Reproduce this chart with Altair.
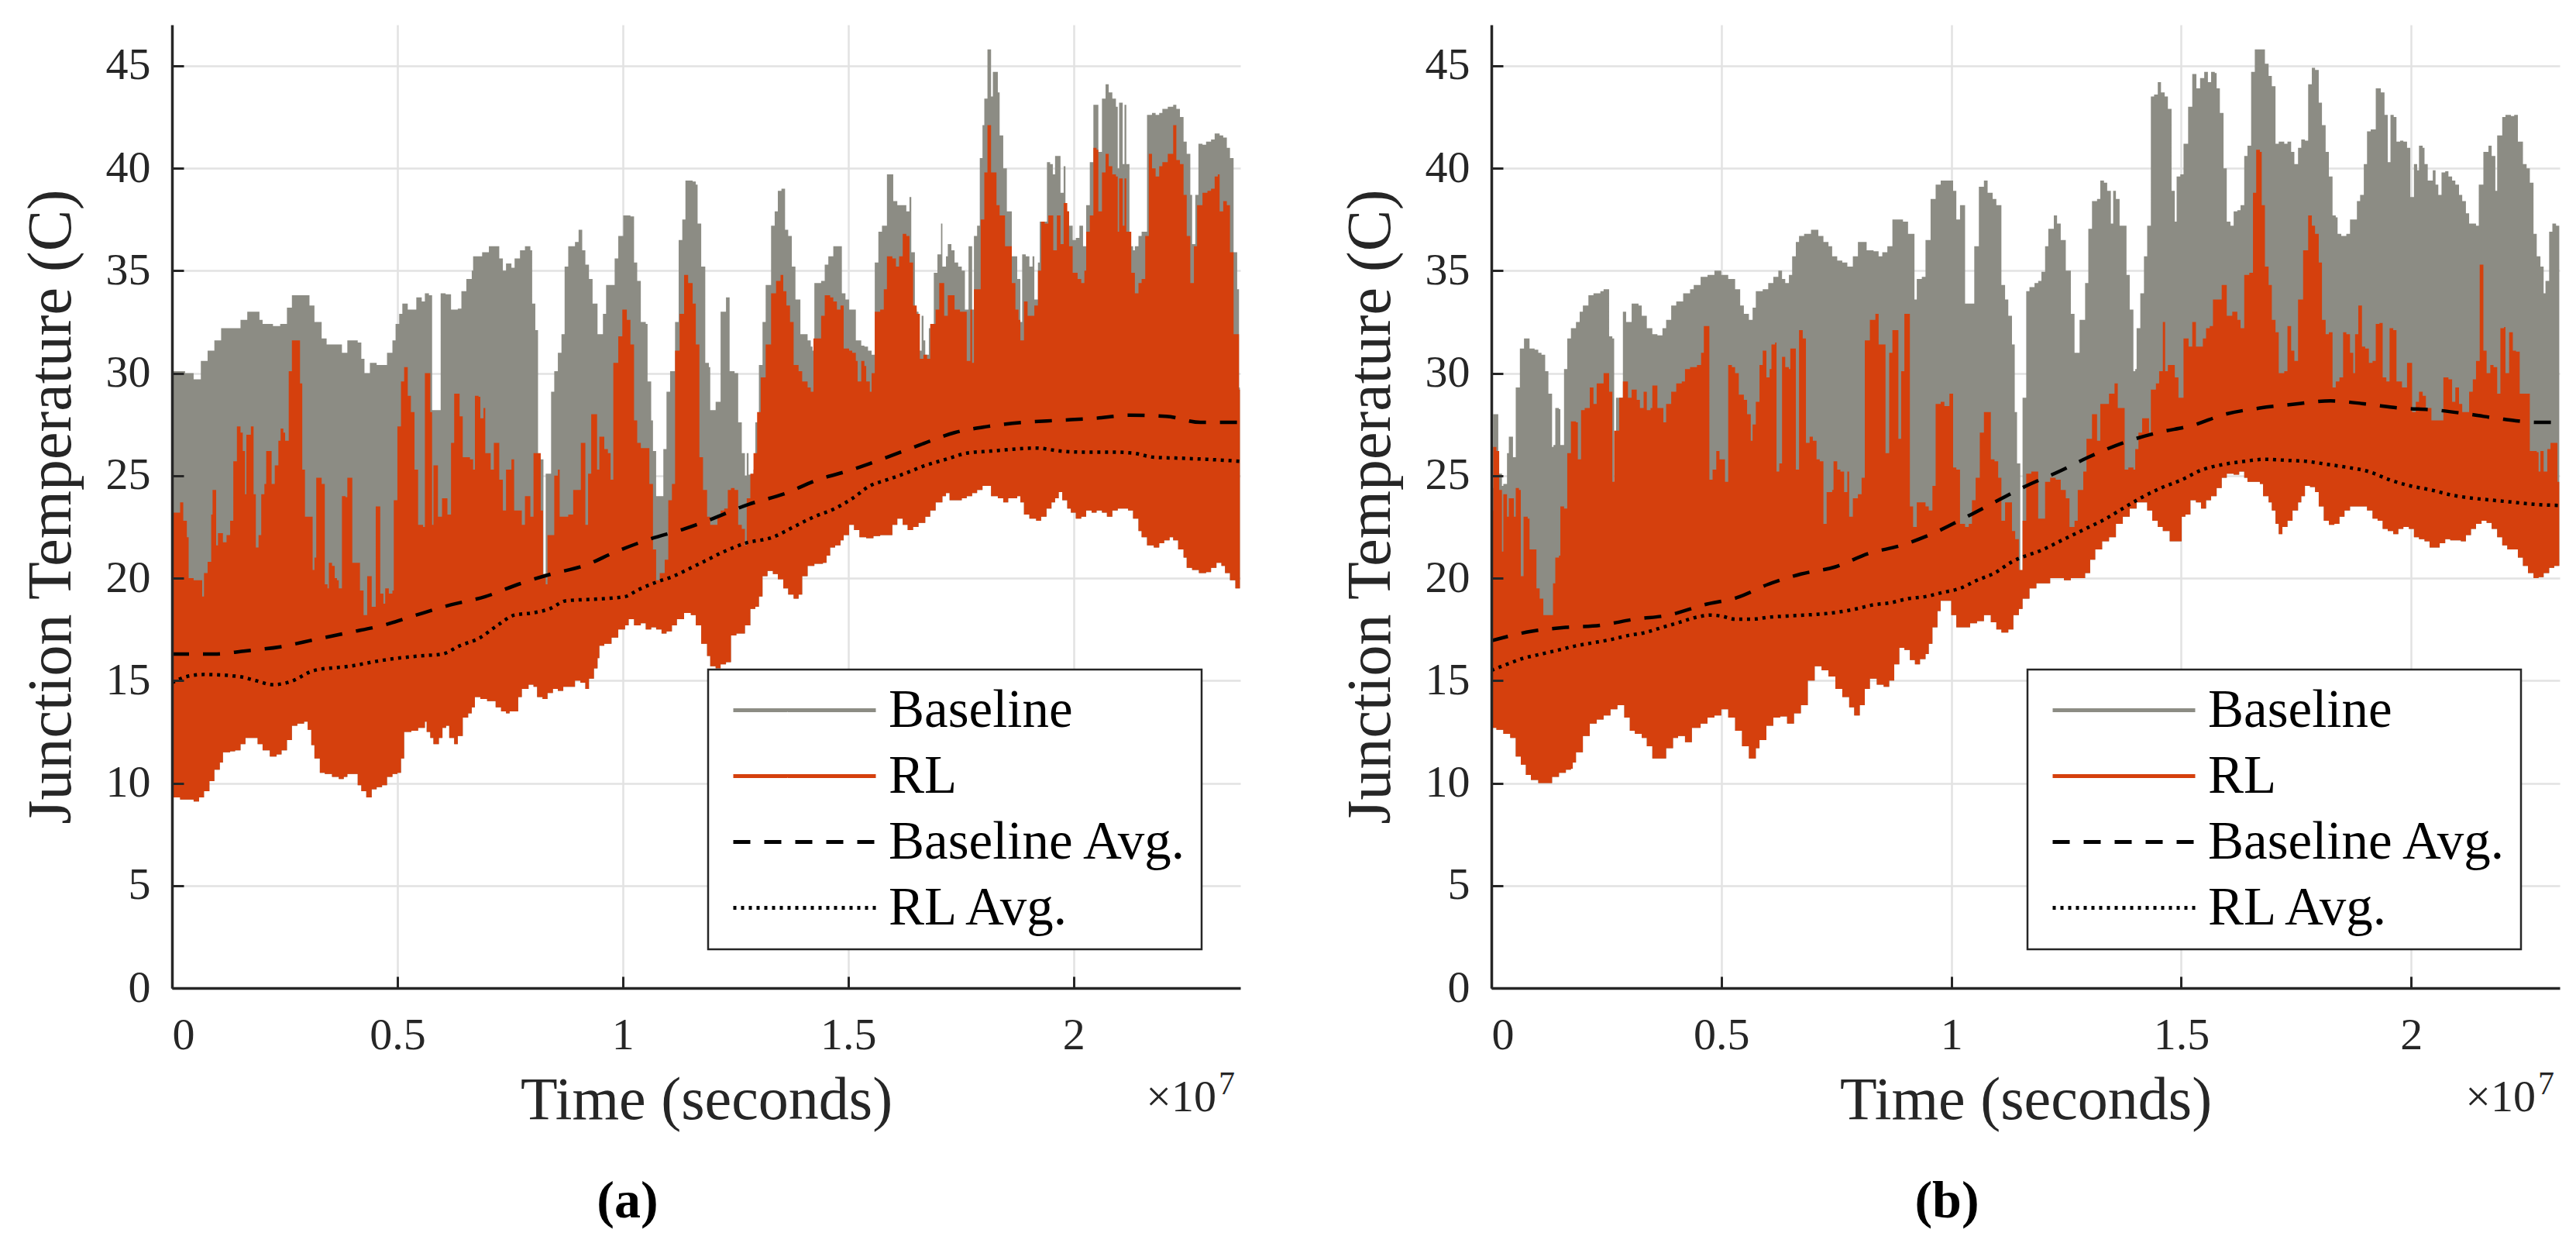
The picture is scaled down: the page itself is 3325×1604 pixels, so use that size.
import altair as alt
import pandas as pd

GREY = "#8c8c84"
RED = "#d5400d"
INK = "#262626"
FONT = "Liberation Serif"

SERIES = ["Baseline", "RL", "Baseline Avg.", "RL Avg."]
X_TICKS = [0, 0.5, 1, 1.5, 2]
Y_TICKS = [0, 5, 10, 15, 20, 25, 30, 35, 40, 45]
X_TITLE = "Time (seconds)"
Y_TITLE = "Junction Temperature (C)"
CAPTIONS = ["(a)", "(b)"]
X_MAX = [2.37, 2.323]

# ---------------- panel (a) : time in units of 1e7 s, temperature in C ----------------
A_BASE_HI = [(0.000,30.1),(0.029,30.0),(0.048,29.7),(0.064,30.6),(0.079,31.1),(0.094,31.6),(0.109,32.2),(0.136,32.2),(0.152,32.6),(0.167,33.0),(0.186,33.0),(0.194,32.6),(0.201,32.4),(0.224,32.3),(0.240,32.4),(0.255,33.2),(0.266,33.8),(0.293,33.8),(0.305,33.3),(0.316,32.5),(0.332,31.7),(0.343,31.4),(0.362,31.4),(0.377,31.0),(0.389,31.6),(0.412,31.5),(0.420,30.7),(0.427,30.0),(0.439,30.5),(0.454,30.4),(0.477,31.0),(0.489,31.6),(0.496,32.4),(0.504,32.9),(0.511,33.4),(0.523,33.1),(0.542,33.7),(0.554,33.5),(0.561,33.9),(0.570,33.8),(0.577,28.2),(0.596,33.9),(0.607,33.85),(0.619,33.1),(0.634,33.15),(0.642,34.0),(0.653,34.6),(0.665,35.0),(0.668,35.7),(0.688,35.9),(0.703,36.2),(0.718,36.2),(0.726,35.6),(0.734,35.0),(0.741,35.35),(0.753,35.15),(0.760,35.6),(0.772,36.0),(0.783,36.2),(0.795,36.0),(0.799,33.4),(0.806,32.1),(0.812,25.8),(0.820,25.8),(0.824,20.2),(0.829,25.1),(0.841,29.1),(0.848,30.1),(0.856,31.0),(0.864,31.9),(0.871,35.2),(0.879,36.2),(0.894,36.4),(0.902,37.0),(0.910,36.0),(0.917,35.3),(0.925,34.6),(0.933,33.4),(0.944,31.9),(0.952,31.9),(0.956,32.9),(0.963,34.3),(0.975,34.3),(0.982,35.6),(0.990,36.7),(1.001,37.7),(1.017,37.65),(1.025,35.4),(1.032,34.5),(1.040,32.5),(1.051,32.4),(1.055,29.6),(1.063,27.7),(1.067,26.2),(1.074,24.0),(1.082,24.0),(1.090,26.3),(1.097,29.1),(1.105,30.1),(1.116,32.5),(1.124,36.5),(1.132,37.5),(1.139,39.4),(1.155,39.35),(1.162,39.2),(1.166,37.3),(1.174,35.2),
    (1.183,30.5),(1.191,30.3),(1.194,28.2),(1.202,28.2),(1.206,28.6),(1.214,28.6),(1.217,33.0),(1.225,33.0),(1.229,33.7),(1.234,33.7),(1.237,30.1),(1.248,30.0),(1.256,27.6),(1.264,26.1),(1.267,26.1),(1.271,25.0),(1.275,26.1),(1.279,25.05),(1.287,25.0),(1.290,25.3),(1.294,27.6),(1.302,30.4),(1.310,32.5),(1.317,34.3),(1.329,37.2),(1.337,37.9),(1.344,38.9),(1.352,39.0),(1.360,37.0),(1.367,36.7),(1.375,35.2),(1.383,33.6),(1.394,31.9),(1.410,31.6),(1.417,31.3),(1.421,31.1),(1.425,34.4),(1.433,34.4),(1.440,34.5),(1.448,35.3),(1.456,35.7),(1.467,36.2),(1.483,36.2),(1.486,33.9),(1.494,33.6),(1.502,33.1),(1.513,33.1),(1.517,31.6),(1.525,31.6),(1.529,31.35),(1.536,31.3),(1.544,31.1),(1.552,30.9),(1.559,35.4),(1.567,36.9),(1.575,37.2),(1.586,39.7),(1.598,39.7),(1.600,38.4),(1.609,38.2),(1.621,38.2),(1.629,37.9),(1.636,38.6),(1.640,35.9),(1.648,33.1),(1.652,33.0),(1.656,31.1),(1.663,32.8),(1.667,31.6),(1.671,30.9),(1.679,32.2),(1.690,34.9),(1.698,35.8),(1.706,37.3),(1.709,35.2),(1.717,35.7),(1.721,36.3),(1.729,36.0),(1.736,35.4),(1.744,35.2),(1.752,35.0),(1.759,33.1),(1.767,36.2),(1.772,36.2),(1.775,33.1),(1.779,36.7),(1.786,37.2),(1.792,40.5),(1.798,42.1),(1.802,43.4),(1.809,45.8),(1.815,45.8),(1.817,43.5),(1.821,44.7),(1.829,44.7),(1.832,43.7),(1.836,41.6),(1.844,40.0),(1.852,37.9),(1.855,37.9),(1.863,35.7),(1.875,34.6),(1.882,32.5),(1.886,35.8),(1.894,35.7),(1.902,35.2),(1.909,35.7),(1.913,33.6),(1.921,35.4),(1.925,37.4),(1.936,37.4),(1.941,40.3),(1.948,40.2),(1.954,39.7),(1.959,40.6),(1.967,40.6),(1.971,38.8),(1.978,40.1),(1.982,37.9),(1.990,37.2),(1.998,36.5),(2.005,36.6),(2.013,37.2),(2.021,36.2),(2.028,38.2),(2.036,40.3),(2.044,43.1),(2.051,43.1),(2.055,40.8),(2.063,43.4),(2.071,44.1),(2.078,43.7),(2.086,43.4),(2.094,43.0),(2.098,40.0),(2.101,43.2),(2.109,40.2),(2.113,43.1),(2.117,40.2),(2.124,36.2),(2.132,36.0),(2.136,36.2),(2.144,36.7),(2.151,36.9),(2.159,36.9),(2.163,42.6),(2.174,42.7),(2.182,42.6),(2.190,42.7),(2.197,42.9),(2.209,43.0),(2.221,43.1),(2.228,42.9),(2.236,42.5),(2.244,41.3),(2.251,40.7),(2.259,38.7),(2.263,36.3),(2.270,38.7),(2.277,41.2),(2.286,41.15),(2.294,41.3),(2.305,41.4),(2.313,41.7),(2.324,41.6),(2.332,41.5),(2.340,41.0),(2.347,40.5),(2.355,35.9),(2.363,34.1),(2.367,29.3),(2.369,34.1)]

A_RL_HI = [(0.000,23.2),(0.014,23.2),(0.018,23.7),(0.025,22.8),(0.033,22.0),(0.037,20.0),(0.048,19.9),(0.064,19.9),(0.067,19.1),(0.071,20.25),(0.079,20.8),(0.087,23.1),(0.090,24.3),(0.096,24.3),(0.098,21.6),(0.102,22.2),(0.113,21.75),(0.121,22.1),(0.129,22.8),(0.136,25.7),(0.144,27.4),(0.152,27.1),(0.157,26.2),(0.162,24.1),(0.165,27.0),(0.175,27.4),(0.181,24.1),(0.186,21.5),(0.192,22.1),(0.198,24.1),(0.205,24.6),(0.209,26.2),(0.217,26.2),(0.221,24.6),(0.228,25.5),(0.236,26.7),(0.241,27.3),(0.247,27.1),(0.251,26.7),(0.259,30.1),(0.266,31.6),(0.278,31.6),(0.284,29.5),(0.289,25.3),(0.295,23.0),(0.309,23.0),(0.312,20.4),(0.316,21.0),(0.320,24.9),(0.332,24.6),(0.339,19.7),(0.345,19.5),(0.348,20.75),(0.355,20.6),(0.361,20.0),(0.366,19.9),(0.370,19.5),(0.377,24.0),(0.385,23.95),(0.389,24.9),(0.395,24.9),(0.400,20.75),(0.412,20.75),(0.417,19.4),(0.425,18.2),(0.433,20.1),(0.439,20.1),(0.443,18.6),(0.449,18.6),(0.452,23.5),(0.458,23.5),(0.462,19.25),(0.469,18.75),(0.473,19.5),(0.481,19.25),(0.489,19.4),(0.492,23.8),(0.500,27.4),(0.508,29.6),(0.515,30.3),(0.523,28.9),(0.530,28.1),(0.538,25.3),(0.546,22.6),(0.557,22.5),(0.561,30.0),(0.569,30.0),(0.573,28.1),(0.577,22.6),(0.580,25.5),(0.584,25.5),(0.590,23.0),(0.599,23.9),(0.608,23.9),(0.611,23.1),(0.619,26.6),(0.626,29.0),(0.634,29.0),(0.638,27.9),(0.645,25.9),(0.661,25.8),(0.668,25.3),(0.672,28.9),(0.680,28.85),(0.684,27.8),(0.691,28.3),(0.695,26.1),(0.707,25.3),(0.714,26.6),(0.722,26.6),(0.726,24.8),(0.734,23.3),(0.741,25.3),(0.753,25.8),(0.759,23.3),(0.768,23.3),(0.776,22.6),(0.783,24.0),(0.791,24.0),(0.795,23.0),(0.802,26.1),(0.810,26.1),(0.818,23.3),(0.823,20.2),(0.829,19.7),(0.833,22.1),(0.841,22.1),(0.848,25.0),(0.856,25.3),(0.860,23.0),(0.871,23.0),(0.879,23.1),(0.890,24.3),(0.902,24.3),(0.907,26.6),(0.913,26.6),(0.917,22.6),(0.923,25.1),(0.930,28.0),(0.938,28.0),(0.943,25.3),(0.948,26.9),(0.956,26.9),(0.959,26.3),(0.967,26.1),(0.973,24.8),(0.979,30.5),(0.990,31.8),(0.999,33.1),(1.009,32.6),(1.017,31.4),(1.025,27.7),(1.032,26.6),(1.040,26.35),(1.051,26.35),(1.059,24.6),(1.067,21.4),(1.074,19.9),(1.082,20.25),(1.093,20.9),(1.101,23.8),(1.109,24.6),(1.116,31.1),(1.126,32.9),(1.136,34.8),(1.145,34.4),(1.155,33.4),(1.162,31.4),(1.170,25.9),(1.178,24.3),
    (1.187,23.0),(1.194,22.6),(1.210,23.1),(1.217,23.3),(1.225,23.4),(1.233,24.3),(1.240,24.4),(1.248,24.3),(1.256,22.6),(1.264,22.4),(1.271,21.6),(1.275,23.9),(1.283,25.1),(1.290,26.1),(1.298,28.1),(1.306,29.8),(1.317,31.4),(1.329,33.9),(1.340,34.5),(1.350,34.8),(1.356,34.0),(1.363,33.3),(1.371,32.5),(1.379,30.4),(1.390,30.1),(1.398,29.6),(1.410,29.3),(1.417,29.1),(1.423,31.7),(1.433,31.7),(1.440,32.8),(1.448,33.8),(1.460,33.7),(1.467,33.5),(1.475,33.1),(1.483,33.3),(1.490,31.2),(1.502,31.1),(1.509,31.0),(1.517,30.6),(1.521,29.6),(1.529,30.6),(1.536,30.35),(1.540,29.6),(1.548,29.1),(1.552,30.0),(1.559,33.0),(1.571,33.1),(1.579,34.1),(1.586,35.7),(1.598,35.6),(1.606,35.2),(1.613,35.7),(1.621,36.8),(1.629,36.7),(1.636,35.4),(1.644,33.3),(1.652,32.9),(1.659,30.7),(1.667,30.9),(1.675,30.7),(1.682,32.4),(1.694,33.1),(1.702,34.4),(1.709,34.4),(1.713,32.8),(1.721,33.8),(1.729,33.8),(1.736,33.1),(1.748,33.0),(1.759,33.0),(1.763,30.6),(1.771,33.1),(1.775,30.5),(1.779,34.1),(1.790,34.1),(1.794,37.5),(1.802,39.8),(1.809,42.1),(1.815,42.1),(1.817,39.8),(1.829,38.2),(1.836,37.7),(1.848,36.2),(1.859,36.2),(1.863,34.4),(1.871,33.1),(1.878,32.6),(1.882,31.6),(1.890,33.5),(1.898,32.8),(1.905,32.8),(1.913,33.3),(1.921,35.0),(1.928,37.4),(1.936,37.3),(1.944,37.7),(1.955,36.0),(1.963,37.7),(1.971,36.3),(1.978,38.3),(1.986,37.9),(1.990,36.2),(1.998,34.9),(2.009,34.6),(2.017,34.4),(2.024,35.0),(2.028,36.9),(2.036,37.7),(2.044,41.0),(2.051,40.9),(2.055,37.9),(2.063,39.8),(2.071,40.7),(2.078,40.1),(2.086,39.7),(2.094,39.6),(2.098,36.9),(2.101,39.5),(2.109,37.2),(2.113,39.5),(2.117,36.9),(2.128,34.9),(2.136,33.9),(2.144,34.4),(2.151,34.6),(2.159,36.7),(2.167,40.7),(2.174,40.0),(2.182,39.6),(2.190,40.1),(2.197,40.3),(2.209,40.7),(2.221,42.1),(2.226,42.1),(2.228,40.4),(2.236,40.2),(2.244,38.7),(2.251,36.7),(2.259,34.4),(2.267,36.2),(2.274,38.2),(2.286,38.8),(2.297,38.9),(2.305,39.0),(2.313,39.6),(2.320,39.7),(2.324,37.9),(2.332,38.4),(2.340,38.2),(2.347,35.9),(2.355,31.9),(2.363,31.9),(2.367,29.2),(2.369,29.2)]

A_RL_LO = [(0.000,13.0),(0.002,9.3),(0.018,9.2),(0.033,9.2),(0.048,9.1),(0.060,9.3),(0.071,9.6),(0.083,10.1),(0.094,10.65),(0.106,11.0),(0.113,11.5),(0.129,11.55),(0.140,11.6),(0.152,11.9),(0.163,12.2),(0.178,12.2),(0.190,11.9),(0.201,11.6),(0.217,11.3),(0.232,11.4),(0.243,11.6),(0.255,12.1),(0.266,12.8),(0.278,12.9),(0.293,13.0),(0.301,12.6),(0.309,11.85),(0.316,11.2),(0.328,10.5),(0.339,10.45),(0.355,10.3),(0.370,10.2),(0.381,10.3),(0.389,10.45),(0.400,10.45),(0.412,9.9),(0.420,9.6),(0.431,9.3),(0.443,9.7),(0.454,9.8),(0.466,9.9),(0.477,10.3),(0.489,10.45),(0.500,10.5),(0.508,11.2),(0.515,12.5),(0.531,12.55),(0.546,12.7),(0.561,13.0),(0.565,12.5),(0.573,12.2),(0.580,11.9),(0.592,12.2),(0.600,12.7),(0.608,12.8),(0.615,12.2),(0.626,11.9),(0.634,12.3),(0.645,13.2),(0.657,13.4),(0.665,13.7),(0.672,14.2),(0.684,14.1),(0.699,14.0),(0.711,14.0),(0.718,13.7),(0.730,13.5),(0.741,13.4),(0.749,13.5),(0.760,13.5),(0.768,14.2),(0.776,14.6),(0.791,14.8),(0.802,14.7),(0.810,14.2),(0.822,14.1),(0.833,14.4),(0.845,14.6),(0.856,14.5),(0.868,14.7),(0.883,14.7),(0.894,15.0),(0.906,14.9),(0.917,14.6),(0.925,15.1),(0.936,15.6),(0.944,16.1),(0.948,16.7),(0.959,16.8),(0.975,17.1),(0.990,17.5),(1.005,17.7),(1.013,18.0),(1.025,17.7),(1.040,17.8),(1.051,17.5),(1.063,17.6),(1.074,17.5),(1.086,17.3),(1.097,17.4),(1.109,17.7),(1.120,18.0),(1.136,18.3),(1.151,18.2),(1.162,17.7),(1.174,16.8),
    (1.187,16.2),(1.194,15.7),(1.206,15.6),(1.217,15.8),(1.229,15.9),(1.240,17.2),(1.252,17.3),(1.264,17.3),(1.271,17.7),(1.283,18.5),(1.294,18.6),(1.302,19.1),(1.310,20.1),(1.321,20.35),(1.333,20.2),(1.344,19.95),(1.356,19.5),(1.367,19.2),(1.379,19.0),(1.390,19.2),(1.398,20.1),(1.410,20.6),(1.425,20.7),(1.444,20.75),(1.452,21.1),(1.460,21.5),(1.471,21.6),(1.483,21.85),(1.490,22.1),(1.502,22.6),(1.513,22.35),(1.525,22.0),(1.540,21.95),(1.556,22.05),(1.571,22.1),(1.586,22.1),(1.598,22.6),(1.609,22.9),(1.621,22.6),(1.632,22.35),(1.644,22.5),(1.656,22.7),(1.671,23.0),(1.682,23.3),(1.694,23.7),(1.709,24.0),(1.717,24.15),(1.725,23.8),(1.740,23.8),(1.752,23.9),(1.763,24.0),(1.775,24.15),(1.786,24.3),(1.798,24.5),(1.809,24.5),(1.817,24.0),(1.832,23.9),(1.844,23.7),(1.855,23.9),(1.867,23.9),(1.875,24.0),(1.882,23.7),(1.890,23.1),(1.902,22.9),(1.917,22.8),(1.928,23.0),(1.940,23.4),(1.951,23.7),(1.959,23.9),(1.967,24.2),(1.975,23.8),(1.986,23.4),(1.994,23.2),(2.005,22.9),(2.017,23.0),(2.028,23.3),(2.040,23.2),(2.051,23.3),(2.063,23.2),(2.074,23.0),(2.086,23.3),(2.098,23.4),(2.109,23.4),(2.121,23.3),(2.132,22.9),(2.144,22.3),(2.151,22.0),(2.163,21.6),(2.178,21.5),(2.190,21.7),(2.201,21.85),(2.213,22.0),(2.221,21.85),(2.232,21.4),(2.244,21.0),(2.251,20.5),(2.263,20.4),(2.278,20.25),(2.294,20.3),(2.305,20.5),(2.317,20.75),(2.328,20.6),(2.336,20.25),(2.347,19.9),(2.359,19.5),(2.369,19.1)]

A_BASE_AVG = [(0.000,16.3),(0.094,16.3),(0.163,16.45),(0.240,16.65),(0.316,17.0),(0.393,17.35),(0.469,17.7),(0.542,18.2),(0.619,18.7),(0.695,19.1),(0.768,19.7),(0.841,20.2),(0.913,20.6),(0.986,21.3),(1.059,21.9),(1.136,22.4),(1.193,22.85),(1.279,23.6),(1.356,24.1),(1.433,24.8),(1.510,25.3),(1.586,25.9),(1.659,26.5),(1.736,27.1),(1.809,27.4),(1.886,27.6),(1.967,27.7),(2.048,27.8),(2.124,27.95),(2.205,27.9),(2.282,27.6),(2.370,27.6)]

A_RL_AVG = [(0.000,14.9),(0.033,15.2),(0.071,15.3),(0.148,15.2),(0.186,15.0),(0.224,14.8),(0.263,14.95),(0.316,15.5),(0.393,15.7),(0.469,16.0),(0.546,16.2),(0.600,16.3),(0.638,16.7),(0.684,17.1),(0.722,17.7),(0.760,18.2),(0.799,18.3),(0.837,18.5),(0.875,18.9),(0.913,18.95),(0.959,19.0),(1.005,19.1),(1.036,19.45),(1.074,19.8),(1.113,20.1),(1.151,20.5),(1.179,20.8),(1.225,21.3),(1.271,21.7),(1.333,22.0),(1.379,22.5),(1.425,23.0),(1.471,23.4),(1.510,23.9),(1.548,24.5),(1.586,24.8),(1.625,25.1),(1.671,25.5),(1.717,25.8),(1.763,26.1),(1.817,26.2),(1.871,26.3),(1.917,26.35),(1.971,26.2),(2.024,26.15),(2.086,26.15),(2.132,26.1),(2.178,25.9),(2.240,25.85),(2.294,25.8),(2.370,25.7)]

# ---------------- panel (b) ----------------
B_BASE_HI = [(0.000,24.4),(0.004,28.0),(0.011,28.0),(0.015,25.1),(0.023,24.5),(0.026,24.6),(0.034,26.1),(0.038,26.9),(0.045,26.9),(0.047,25.9),(0.053,29.3),(0.060,29.3),(0.062,31.2),(0.071,31.7),(0.079,31.7),(0.083,31.2),(0.094,31.15),(0.102,31.0),(0.109,30.9),(0.117,30.1),(0.124,29.0),(0.132,26.4),(0.135,26.5),(0.139,28.3),(0.147,28.25),(0.150,26.5),(0.158,30.2),(0.165,31.7),(0.173,32.2),(0.184,32.5),(0.192,33.0),(0.199,33.3),(0.211,33.8),(0.222,33.9),(0.237,34.0),(0.244,34.1),(0.252,34.1),(0.256,31.8),(0.263,31.7),(0.267,24.7),(0.271,28.8),(0.278,28.8),(0.286,33.0),(0.293,32.5),(0.305,33.4),(0.320,33.3),(0.327,32.8),(0.338,32.2),(0.350,31.9),(0.361,31.85),(0.372,32.2),(0.380,32.6),(0.391,33.3),(0.402,33.5),(0.417,33.9),(0.432,34.1),(0.440,34.3),(0.455,34.7),(0.470,34.8),(0.485,35.0),(0.500,34.8),(0.515,34.6),(0.530,34.1),(0.541,33.3),(0.549,32.9),(0.560,32.6),(0.568,33.2),(0.575,34.0),(0.590,34.1),(0.602,34.4),(0.613,34.7),(0.624,35.0),(0.632,34.6),(0.639,34.4),(0.647,34.8),(0.654,35.7),(0.662,36.4),(0.669,36.7),(0.680,36.8),(0.695,37.0),(0.711,36.7),(0.722,36.4),(0.733,36.2),(0.741,35.7),(0.752,35.5),(0.763,35.4),(0.774,35.2),(0.786,35.7),(0.797,36.4),(0.808,36.4),(0.816,36.0),(0.831,35.95),(0.842,35.7),(0.850,35.9),(0.861,36.2),(0.872,37.5),(0.883,37.5),(0.895,37.4),(0.906,36.8),(0.914,36.8),(0.920,33.6),(0.925,34.6),(0.936,34.7),(0.944,36.5),(0.951,36.5),(0.955,38.5),(0.966,39.2),(0.977,39.4),(0.996,39.4),(1.004,38.9),(1.011,37.5),(1.019,38.2),(1.026,38.2),(1.030,33.4),(1.045,33.4),(1.050,36.2),(1.060,39.1),(1.071,39.4),(1.079,38.8),(1.090,38.5),(1.098,38.2),(1.105,38.2),(1.109,34.3),(1.117,33.6),(1.124,32.8),(1.132,31.4),(1.138,28.1),(1.143,25.6),(1.150,20.25),
    (1.155,28.8),(1.163,34.0),(1.170,34.2),(1.181,34.4),(1.189,34.5),(1.196,34.95),(1.204,36.2),(1.211,37.05),(1.223,37.7),(1.230,37.3),(1.238,36.5),(1.249,35.0),(1.257,35.0),(1.260,32.9),(1.268,31.0),(1.275,31.0),(1.279,32.6),(1.291,34.4),(1.298,37.05),(1.306,38.4),(1.317,38.5),(1.324,39.4),(1.332,39.3),(1.339,38.9),(1.347,37.3),(1.352,38.9),(1.358,38.5),(1.366,37.2),(1.373,37.2),(1.381,34.8),(1.388,33.1),(1.396,30.1),(1.400,30.2),(1.403,32.2),(1.411,33.9),(1.419,35.7),(1.426,37.2),(1.434,43.5),(1.441,43.6),(1.449,44.2),(1.456,43.7),(1.464,43.5),(1.471,42.9),(1.479,38.9),(1.486,37.4),(1.490,39.6),(1.498,39.7),(1.505,41.2),(1.515,43.0),(1.524,44.6),(1.533,43.9),(1.541,44.4),(1.550,44.7),(1.558,44.2),(1.565,44.7),(1.573,44.65),(1.577,43.9),(1.584,42.7),(1.592,40.0),(1.599,37.4),(1.607,37.2),(1.614,37.9),(1.622,37.95),(1.629,38.2),(1.637,40.6),(1.644,41.1),(1.652,44.7),(1.660,45.8),(1.675,45.8),(1.682,45.1),(1.690,44.5),(1.697,44.0),(1.705,41.2),(1.712,41.3),(1.724,41.2),(1.731,41.3),(1.739,40.8),(1.746,40.2),(1.754,41.0),(1.761,41.4),(1.769,41.35),(1.776,44.1),(1.784,44.9),(1.791,44.8),(1.799,43.2),(1.806,42.1),(1.814,40.8),(1.821,39.6),(1.829,37.7),(1.836,37.6),(1.840,36.8),(1.848,36.7),(1.859,36.8),(1.867,37.5),(1.874,37.5),(1.882,38.4),(1.889,38.7),(1.897,40.2),(1.904,41.8),(1.912,41.9),(1.923,43.9),(1.934,43.7),(1.942,42.6),(1.949,40.3),(1.955,42.6),(1.962,42.5),(1.968,41.3),(1.976,41.35),(1.983,41.3),(1.991,41.0),(1.998,38.6),(2.006,40.2),(2.013,39.9),(2.017,41.1),(2.025,41.0),(2.029,40.2),(2.036,39.4),(2.047,39.9),(2.053,39.2),(2.059,38.7),(2.066,39.8),(2.074,39.85),(2.081,39.6),(2.089,39.4),(2.096,39.2),(2.104,38.7),(2.111,38.4),(2.119,37.8),(2.126,37.3),(2.134,37.3),(2.141,37.2),(2.147,39.2),(2.157,40.8),(2.168,41.1),(2.175,40.6),(2.183,38.9),(2.187,41.6),(2.198,42.5),(2.205,42.6),(2.217,42.55),(2.224,42.6),(2.232,41.3),(2.243,40.2),(2.251,40.0),(2.258,39.3),(2.266,36.8),(2.273,35.7),(2.281,35.2),(2.288,33.9),(2.292,34.5),(2.300,36.9),(2.307,37.3),(2.315,37.2),(2.322,37.1)]

B_RL_HI = [(0.000,23.3),(0.004,26.4),(0.011,26.2),(0.017,24.3),(0.023,21.3),(0.026,24.1),(0.034,23.0),(0.038,23.9),(0.045,23.9),(0.049,23.0),(0.053,24.4),(0.060,24.3),(0.064,20.1),(0.070,23.0),(0.079,22.9),(0.083,21.4),(0.090,21.4),(0.098,19.5),(0.105,19.0),(0.113,18.2),(0.128,18.2),(0.134,19.75),(0.139,21.0),(0.147,21.1),(0.150,23.5),(0.158,23.4),(0.165,26.1),(0.173,27.65),(0.184,27.6),(0.188,25.8),(0.195,28.2),(0.203,28.3),(0.211,28.3),(0.214,29.3),(0.222,28.5),(0.229,29.5),(0.237,29.5),(0.244,30.0),(0.256,29.1),(0.263,24.7),(0.267,27.2),(0.278,28.8),(0.286,29.6),(0.293,29.6),(0.297,28.8),(0.305,29.2),(0.312,29.2),(0.316,28.7),(0.323,28.3),(0.331,29.1),(0.338,28.2),(0.346,28.3),(0.350,29.4),(0.357,29.4),(0.361,28.3),(0.368,28.3),(0.374,27.6),(0.380,28.5),(0.391,29.1),(0.402,29.5),(0.414,29.6),(0.421,30.2),(0.432,30.3),(0.447,30.4),(0.456,31.0),(0.462,32.3),(0.470,32.3),(0.474,24.8),(0.481,25.3),(0.489,26.2),(0.496,25.8),(0.508,24.7),(0.515,30.4),(0.523,30.3),(0.530,30.0),(0.538,28.95),(0.549,28.7),(0.556,28.0),(0.564,26.7),(0.568,27.5),(0.575,28.6),(0.583,30.4),(0.590,31.1),(0.598,29.8),(0.605,30.2),(0.609,31.4),(0.617,31.5),(0.620,25.2),(0.626,25.6),(0.632,30.8),(0.639,30.3),(0.647,30.2),(0.650,31.2),(0.658,31.2),(0.662,25.3),(0.669,32.1),(0.677,31.7),(0.684,26.6),(0.692,26.9),(0.699,26.7),(0.707,25.8),(0.714,25.7),(0.722,22.65),(0.729,24.2),(0.741,24.3),(0.744,25.7),(0.752,25.3),(0.759,25.2),(0.767,24.2),(0.774,25.2),(0.778,23.0),(0.786,23.9),(0.797,24.1),(0.805,24.9),(0.812,31.6),(0.823,32.6),(0.835,32.9),(0.842,31.4),(0.850,31.4),(0.857,26.1),(0.865,31.0),(0.872,32.1),(0.880,32.1),(0.885,26.8),(0.891,30.1),(0.898,32.9),(0.906,32.9),(0.910,23.5),(0.917,22.5),(0.925,23.7),(0.932,23.7),(0.944,23.5),(0.951,23.3),(0.959,24.5),(0.966,28.5),(0.977,28.6),(0.985,28.4),(0.996,29.0),(1.004,25.4),(1.011,25.3),(1.019,22.65),(1.030,22.5),(1.038,22.65),(1.045,23.8),(1.053,24.9),(1.062,27.1),(1.071,28.1),(1.079,28.1),(1.086,25.8),(1.094,25.7),(1.102,24.9),(1.109,22.8),(1.117,23.7),(1.124,23.7),(1.132,22.3),(1.139,21.9),(1.147,20.4),
    (1.155,22.8),(1.163,25.1),(1.174,25.2),(1.185,25.2),(1.189,22.9),(1.196,22.9),(1.204,24.7),(1.215,24.9),(1.227,24.8),(1.238,24.3),(1.249,23.9),(1.257,22.5),(1.264,22.5),(1.268,22.8),(1.275,24.3),(1.287,25.2),(1.294,26.8),(1.306,28.0),(1.313,28.0),(1.317,26.7),(1.324,28.5),(1.336,28.5),(1.343,29.0),(1.355,29.5),(1.362,28.3),(1.370,28.3),(1.377,25.3),(1.385,25.4),(1.396,25.3),(1.400,26.3),(1.407,27.1),(1.415,27.8),(1.422,27.8),(1.430,27.1),(1.434,29.2),(1.445,29.5),(1.452,30.1),(1.460,32.5),(1.465,30.1),(1.471,30.4),(1.486,29.8),(1.494,28.8),(1.501,28.8),(1.505,31.7),(1.516,31.3),(1.524,32.5),(1.532,31.3),(1.539,31.3),(1.547,31.7),(1.554,32.2),(1.562,32.3),(1.569,33.6),(1.580,33.6),(1.588,34.3),(1.596,34.3),(1.599,32.8),(1.611,33.0),(1.622,32.6),(1.629,32.2),(1.637,34.8),(1.648,34.9),(1.656,38.8),(1.663,40.9),(1.671,40.8),(1.675,38.2),(1.682,35.2),(1.690,34.3),(1.697,32.6),(1.705,32.0),(1.712,30.0),(1.724,30.1),(1.731,32.3),(1.739,31.1),(1.746,30.6),(1.754,33.6),(1.765,36.0),(1.776,37.7),(1.784,37.2),(1.791,36.8),(1.799,35.4),(1.806,32.6),(1.814,31.9),(1.821,32.0),(1.829,29.3),(1.836,29.6),(1.844,29.8),(1.852,32.0),(1.859,31.9),(1.867,31.0),(1.874,30.0),(1.878,31.9),(1.885,33.3),(1.893,31.3),(1.900,31.2),(1.908,30.5),(1.916,30.6),(1.923,32.4),(1.931,32.45),(1.938,29.8),(1.946,29.6),(1.953,32.2),(1.961,32.1),(1.968,29.6),(1.980,29.3),(1.987,29.3),(1.991,30.5),(1.998,30.5),(2.002,28.1),(2.010,28.6),(2.017,29.1),(2.025,28.9),(2.032,28.3),(2.044,27.7),(2.062,27.7),(2.070,29.8),(2.081,29.7),(2.089,28.6),(2.096,29.3),(2.104,28.5),(2.111,28.1),(2.119,28.1),(2.126,29.1),(2.134,29.7),(2.141,30.6),(2.149,35.3),(2.157,31.1),(2.164,30.0),(2.172,30.4),(2.179,30.3),(2.187,29.0),(2.194,32.2),(2.202,32.25),(2.205,30.0),(2.213,32.0),(2.221,31.1),(2.228,31.05),(2.236,29.0),(2.251,29.0),(2.258,26.2),(2.273,26.15),(2.277,25.2),(2.281,26.2),(2.288,25.2),(2.296,26.3),(2.303,26.6),(2.311,26.6),(2.318,24.7),(2.322,24.7)]

B_RL_LO = [(0.000,12.7),(0.011,12.6),(0.026,12.4),(0.041,12.2),(0.053,11.3),(0.064,10.9),(0.075,10.4),(0.086,10.15),(0.102,10.0),(0.117,10.0),(0.132,10.3),(0.147,10.5),(0.162,10.65),(0.173,10.7),(0.177,11.0),(0.184,11.5),(0.199,12.3),(0.214,12.9),(0.229,13.1),(0.244,13.3),(0.259,13.6),(0.274,13.8),(0.289,13.2),(0.301,12.55),(0.312,12.4),(0.327,12.2),(0.338,11.8),(0.350,11.2),(0.365,11.2),(0.380,11.7),(0.395,12.2),(0.406,12.3),(0.421,12.0),(0.436,12.7),(0.455,12.9),(0.470,13.2),(0.485,13.3),(0.500,13.6),(0.515,13.2),(0.530,12.55),(0.545,11.8),(0.560,11.2),(0.568,11.2),(0.575,11.7),(0.583,12.1),(0.598,12.8),(0.613,13.2),(0.628,13.25),(0.643,12.9),(0.658,13.4),(0.673,13.8),(0.688,15.0),(0.703,15.7),(0.718,15.5),(0.733,15.2),(0.748,14.6),(0.763,14.2),(0.778,13.7),(0.789,13.3),(0.801,13.8),(0.812,14.6),(0.823,15.1),(0.838,14.8),(0.853,14.7),(0.865,15.0),(0.876,15.8),(0.887,16.6),(0.898,16.5),(0.910,16.0),(0.921,15.8),(0.932,16.05),(0.944,16.3),(0.951,16.8),(0.959,17.6),(0.970,18.4),(0.977,18.9),(0.989,18.9),(1.000,18.2),(1.011,17.6),(1.026,17.6),(1.041,17.8),(1.056,17.9),(1.071,18.2),(1.086,17.85),(1.098,17.5),(1.109,17.35),(1.124,17.5),(1.135,18.2),(1.147,18.5),
    (1.155,19.0),(1.170,19.5),(1.185,19.75),(1.200,19.75),(1.215,20.0),(1.230,20.0),(1.245,19.9),(1.260,20.0),(1.275,20.0),(1.291,20.25),(1.302,20.9),(1.313,21.4),(1.328,21.8),(1.343,22.0),(1.358,22.65),(1.373,23.0),(1.388,23.4),(1.403,23.7),(1.415,23.7),(1.426,23.3),(1.437,22.8),(1.449,22.5),(1.460,22.3),(1.475,21.8),(1.490,21.8),(1.501,23.0),(1.509,23.1),(1.520,23.8),(1.532,23.7),(1.543,23.4),(1.554,23.8),(1.565,24.0),(1.577,24.4),(1.588,24.9),(1.599,25.1),(1.614,25.05),(1.626,25.2),(1.637,24.9),(1.644,24.7),(1.660,24.7),(1.671,24.6),(1.678,24.0),(1.690,23.7),(1.697,23.3),(1.705,22.65),(1.712,22.15),(1.720,22.5),(1.731,22.8),(1.742,23.3),(1.754,23.7),(1.761,24.0),(1.769,24.5),(1.780,24.45),(1.791,24.2),(1.799,23.5),(1.810,22.8),(1.821,22.6),(1.833,22.65),(1.844,23.0),(1.855,23.3),(1.867,23.5),(1.878,23.5),(1.893,23.5),(1.904,23.3),(1.916,22.9),(1.927,22.8),(1.938,22.4),(1.949,22.3),(1.961,22.15),(1.972,22.4),(1.983,22.5),(1.995,22.4),(2.006,22.0),(2.017,21.9),(2.029,21.8),(2.040,21.5),(2.051,21.5),(2.062,21.7),(2.074,21.9),(2.085,21.85),(2.096,21.85),(2.108,21.8),(2.119,22.1),(2.130,22.4),(2.141,22.65),(2.153,22.8),(2.164,22.7),(2.175,22.4),(2.187,22.0),(2.198,21.6),(2.209,21.4),(2.221,21.4),(2.232,21.0),(2.243,20.6),(2.254,20.25),(2.266,20.0),(2.277,20.05),(2.288,20.25),(2.300,20.5),(2.311,20.6),(2.322,20.8)]

B_BASE_AVG = [(0.000,16.95),(0.086,17.4),(0.162,17.6),(0.237,17.7),(0.312,18.0),(0.387,18.2),(0.462,18.7),(0.534,19.05),(0.602,19.7),(0.673,20.2),(0.748,20.55),(0.820,21.2),(0.891,21.6),(0.962,22.2),(1.034,23.0),(1.102,23.8),(1.163,24.5),(1.234,25.2),(1.298,25.9),(1.373,26.6),(1.449,27.1),(1.524,27.45),(1.596,28.0),(1.671,28.3),(1.750,28.5),(1.825,28.65),(1.900,28.5),(1.976,28.3),(2.055,28.2),(2.126,28.0),(2.202,27.75),(2.277,27.6),(2.322,27.6)]

B_RL_AVG = [(0.000,15.5),(0.034,15.8),(0.071,16.1),(0.109,16.3),(0.147,16.5),(0.184,16.7),(0.222,16.85),(0.259,17.0),(0.297,17.2),(0.335,17.35),(0.372,17.6),(0.410,17.85),(0.447,18.1),(0.477,18.2),(0.500,18.15),(0.530,18.0),(0.568,18.0),(0.605,18.1),(0.643,18.15),(0.680,18.2),(0.718,18.25),(0.756,18.35),(0.793,18.5),(0.831,18.7),(0.868,18.8),(0.906,19.0),(0.944,19.1),(0.981,19.3),(1.019,19.5),(1.056,19.9),(1.094,20.25),(1.132,20.8),(1.200,21.4),(1.245,21.9),(1.291,22.4),(1.336,22.9),(1.373,23.4),(1.411,23.9),(1.456,24.4),(1.501,24.8),(1.547,25.3),(1.592,25.55),(1.637,25.7),(1.682,25.8),(1.727,25.75),(1.772,25.7),(1.818,25.55),(1.863,25.4),(1.908,25.2),(1.953,24.8),(1.998,24.5),(2.044,24.3),(2.089,24.05),(2.134,23.9),(2.179,23.8),(2.224,23.7),(2.269,23.6),(2.322,23.55)]

W, H = 1379, 1243


def series_of(pairs):
    s = pd.Series([v for _, v in pairs], index=[t for t, _ in pairs])
    s = s[~s.index.duplicated(keep="last")].sort_index()
    return s


def band(hi_pairs, lo_pairs):
    hi, lo = series_of(hi_pairs), series_of(lo_pairs)
    idx = sorted(set(hi.index) | set(lo.index))
    return pd.DataFrame({
        "t": idx,
        "hi": hi.reindex(idx).ffill().bfill().values,
        "lo": lo.reindex(idx).ffill().bfill().values,
    })


def lines(base_avg, rl_avg):
    a = pd.DataFrame(base_avg, columns=["t", "v"]).assign(series="Baseline Avg.")
    b = pd.DataFrame(rl_avg, columns=["t", "v"]).assign(series="RL Avg.")
    return pd.concat([a, b], ignore_index=True)


def panel(base_hi, rl_hi, rl_lo, base_avg, rl_avg, xmax, caption):
    xs = alt.Scale(domain=[0, xmax], nice=False, zero=False)
    ys = alt.Scale(domain=[0, 47], nice=False, zero=False)

    ax_x_main = alt.Axis(orient="bottom", values=X_TICKS, format="~g", grid=True,
                         gridColor="#e2e2e2", gridWidth=2.5, domain=False, ticks=False,
                         tickSize=0, labelPadding=78, labelBaseline="alphabetic",
                         labelFontSize=58, labelFont=FONT, labelColor=INK,
                         title=X_TITLE, titleFontSize=78, titleFont=FONT, titleColor=INK,
                         titleFontWeight="normal", titleY=168, titleBaseline="alphabetic",
                         zindex=0)
    ax_y_main = alt.Axis(orient="left", values=Y_TICKS, grid=True, gridColor="#e2e2e2",
                         gridWidth=2.5, domain=False, ticks=False, tickSize=0,
                         labelPadding=28, labelFontSize=58, labelFont=FONT, labelColor=INK,
                         title=Y_TITLE, titleFontSize=80, titleFont=FONT, titleColor=INK,
                         titleFontWeight="normal", titleX=-132, titleY=H / 2,
                         titleAngle=270, titleAlign="center", titleBaseline="alphabetic",
                         zindex=0)
    ax_x_tick = alt.Axis(orient="bottom", values=X_TICKS, grid=False, domain=False,
                         ticks=True, tickSize=15, tickWidth=3, tickColor=INK, offset=-15,
                         labels=False, title=None, zindex=1)
    ax_y_tick = alt.Axis(orient="left", values=Y_TICKS, grid=False, domain=False,
                         ticks=True, tickSize=15, tickWidth=3, tickColor=INK, offset=-15,
                         labels=False, title=None, zindex=1)
    ax_x_dom = alt.Axis(orient="bottom", grid=False, domain=True, domainColor=INK,
                        domainWidth=3.5, ticks=False, labels=False, title=None, zindex=1)
    ax_y_dom = alt.Axis(orient="left", grid=False, domain=True, domainColor=INK,
                        domainWidth=3.5, ticks=False, labels=False, title=None, zindex=1)

    grey = alt.Chart(band(base_hi, rl_lo)).mark_area(
        color=GREY, interpolate="step-after", clip=True).encode(
        x=alt.X("t:Q", scale=xs, axis=ax_x_main),
        y=alt.Y("hi:Q", scale=ys, axis=ax_y_main),
        y2="lo:Q")
    red = alt.Chart(band(rl_hi, rl_lo)).mark_area(
        color=RED, interpolate="step-after", clip=True).encode(
        x=alt.X("t:Q", scale=xs, axis=ax_x_tick),
        y=alt.Y("hi:Q", scale=ys, axis=ax_y_tick),
        y2="lo:Q")

    leg = alt.Legend(title=None, orient="bottom-right", offset=50, padding=18,
                     fillColor="white", strokeColor=INK, labelFont=FONT,
                     labelFontSize=69, labelColor="black", labelLimit=1000,
                     symbolType="M-1,0H8.2",
                     symbolSize=1600, symbolStrokeWidth=5, labelOffset=146,
                     rowPadding=15, symbolLimit=0)
    avg = alt.Chart(lines(base_avg, rl_avg)).mark_line(
        strokeWidth=4.5, interpolate="monotone", clip=True).encode(
        x=alt.X("t:Q", scale=xs, axis=ax_x_dom),
        y=alt.Y("v:Q", scale=ys, axis=ax_y_dom),
        color=alt.Color("series:N", scale=alt.Scale(domain=SERIES, range=[GREY, RED, "black", "black"]), legend=leg),
        strokeDash=alt.StrokeDash("series:N", scale=alt.Scale(domain=SERIES, range=[[1, 0], [1, 0], [22, 18], [4, 6]]), legend=leg),
    )

    one = pd.DataFrame({"s": ["×10"], "e": ["7"], "c": [caption]})
    t10 = alt.Chart(one).mark_text(font=FONT, fontSize=58, align="right", baseline="alphabetic",
                                   color=INK).encode(x=alt.value(W - 31), y=alt.value(H + 159), text="s:N")
    t7 = alt.Chart(one).mark_text(font=FONT, fontSize=42, align="left", baseline="alphabetic",
                                  color=INK).encode(x=alt.value(W - 28), y=alt.value(H + 137), text="e:N")
    cap = alt.Chart(one).mark_text(font=FONT, fontSize=68, fontWeight="bold", align="center",
                                   baseline="alphabetic", color="black").encode(
        x=alt.value(588), y=alt.value(H + 296), text="c:N")

    return alt.layer(grey, red, avg, t10, t7, cap).resolve_axis(
        x="independent", y="independent").properties(width=W, height=H)


pa = panel(A_BASE_HI, A_RL_HI, A_RL_LO, A_BASE_AVG, A_RL_AVG, X_MAX[0], CAPTIONS[0])
pb = panel(B_BASE_HI, B_RL_HI, B_RL_LO, B_BASE_AVG, B_RL_AVG, X_MAX[1], CAPTIONS[1])

chart = alt.hconcat(pa, pb, spacing=128).resolve_scale(
    color="independent", strokeDash="independent").resolve_legend(
    color="independent", strokeDash="independent").properties(
    padding={"left": 18, "top": 24, "right": 10, "bottom": 10},
    background="white").configure_view(stroke=None).configure_legend(
    strokeWidth=2.5, labelFont=FONT, labelLimit=1000).configure_axis(
    labelFont=FONT, titleFont=FONT)

chart.save("out.html", embed_options={"renderer": "svg", "actions": False})
